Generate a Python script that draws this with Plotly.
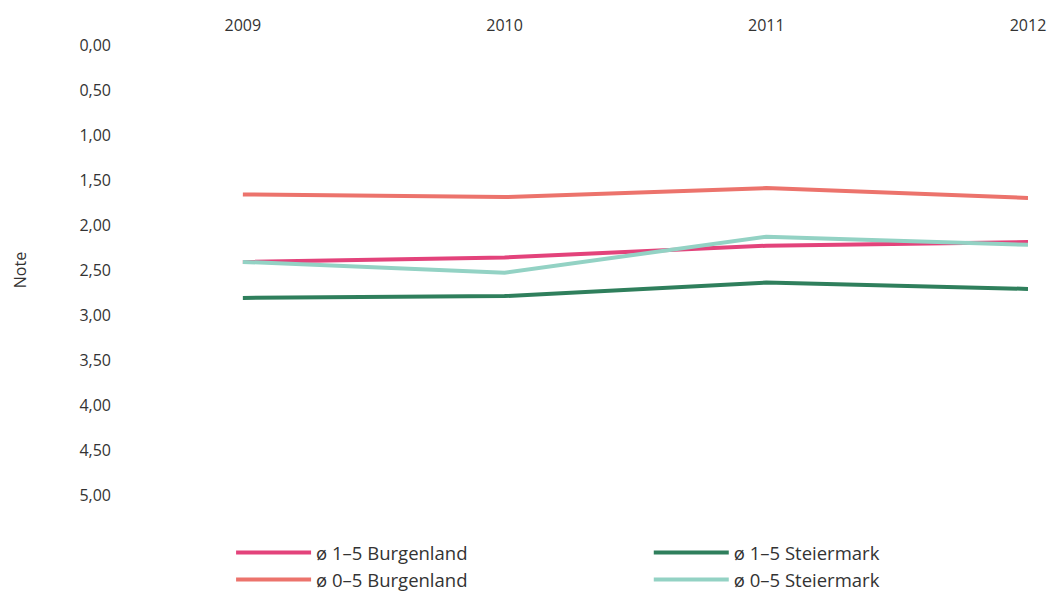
import plotly.graph_objects as go

years = [2009, 2010, 2011, 2012]
burgenland_1_5 = [2.41, 2.36, 2.23, 2.19]
burgenland_0_5 = [1.66, 1.69, 1.59, 1.70]
steiermark_1_5 = [2.81, 2.79, 2.64, 2.71]
steiermark_0_5 = [2.41, 2.53, 2.13, 2.22]

y_tickvals = [0, 0.5, 1, 1.5, 2, 2.5, 3, 3.5, 4, 4.5, 5]
y_ticktext = ["0,00", "0,50", "1,00", "1,50", "2,00", "2,50", "3,00", "3,50", "4,00", "4,50", "5,00"]

series = [
    ("ø 1–5 Burgenland", burgenland_1_5, "#e3437b", "legend"),
    ("ø 0–5 Burgenland", burgenland_0_5, "#ec736c", "legend"),
    ("ø 1–5 Steiermark", steiermark_1_5, "#2f7f5c", "legend2"),
    ("ø 0–5 Steiermark", steiermark_0_5, "#93d2c4", "legend2"),
]

fig = go.Figure()
for name, vals, col, leg in series:
    fig.add_trace(go.Scatter(x=years, y=vals, name=name, mode="lines",
                             line=dict(color=col, width=4), legend=leg))

font = "Open Sans, DejaVu Sans, sans-serif"
leg_common = dict(orientation="v", xanchor="left", yref="container", y=0.101,
                  yanchor="top", itemwidth=75,
                  font=dict(size=18.5, color="#333333"), tracegroupgap=0,
                  bgcolor="rgba(0,0,0,0)")
fig.update_layout(
    width=1048, height=594,
    margin=dict(l=112, r=20, t=45, b=99),
    paper_bgcolor="white", plot_bgcolor="white",
    font=dict(family=font, size=16, color="#333333"),
    showlegend=True,
    legend=dict(x=0.13, **leg_common),
    legend2=dict(x=0.586, **leg_common),
    xaxis=dict(side="top", range=[2008.5, 2012], tickvals=years,
               ticktext=[str(y) for y in years], showgrid=False, zeroline=False,
               showline=False, ticks="", ticklabelstandoff=10, automargin=False),
    yaxis=dict(range=[5, 0], tickvals=y_tickvals, ticktext=y_ticktext,
               showgrid=False, zeroline=False, showline=False, ticks="",
               automargin=False,
               title=dict(text="Note", standoff=48, font=dict(size=16))),
)

fig.write_html("out.html")
